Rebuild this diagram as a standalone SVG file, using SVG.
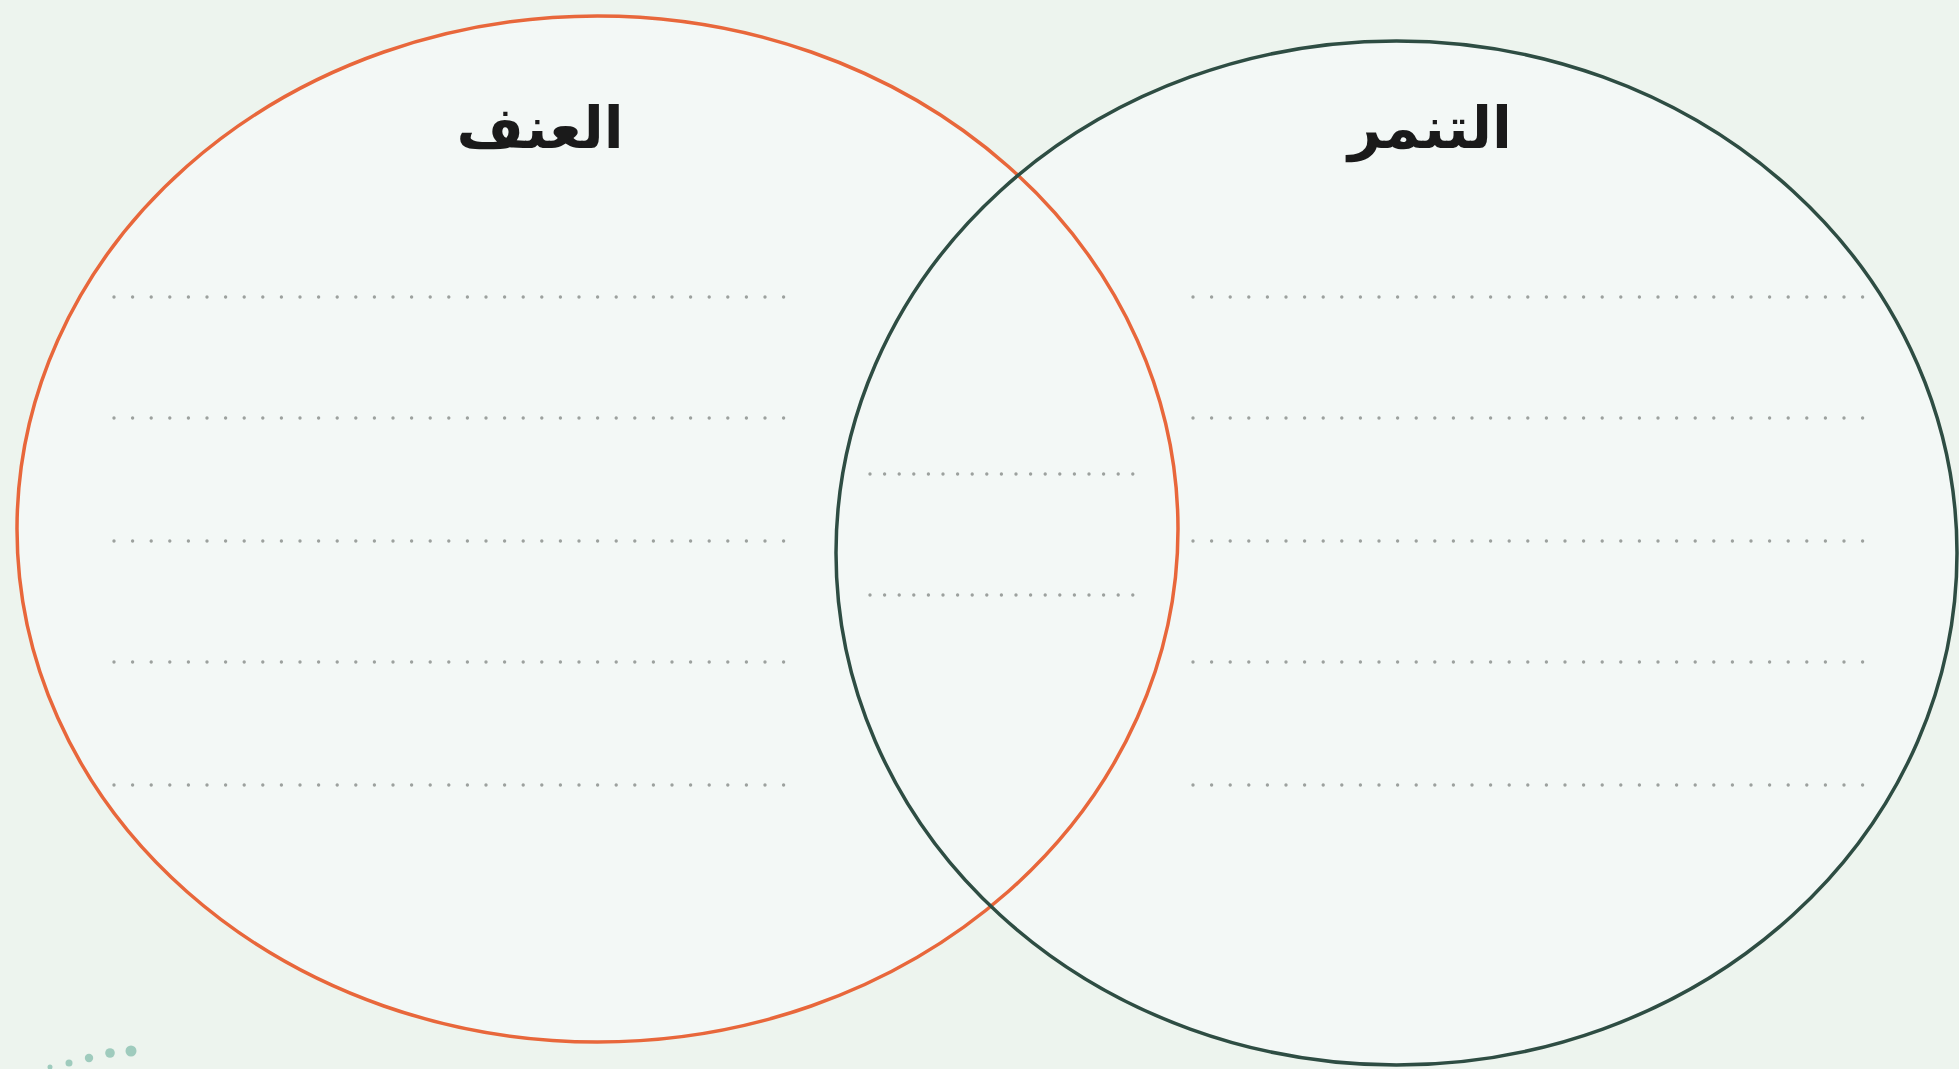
<svg xmlns="http://www.w3.org/2000/svg" width="1959" height="1069" viewBox="0 0 1959 1069">
  <style>
    .bg { fill: #edf4ee; }
    .fillset { fill: #f3f8f6; stroke: none; }
    .set { fill: none; stroke-width: 3.5; }
    .violence { stroke: #e8673b; }
    .bullying { stroke: #2e4d43; }
    .title { font-family: "DejaVu Sans", "Noto Sans", sans-serif; font-weight: bold; font-size: 58px; fill: #1a1a1a; text-anchor: middle; }
    .dots { stroke: #9ca19e; stroke-width: 3.4; stroke-linecap: round; stroke-dasharray: 0 18.6; fill: none; }
    .dots-mid { stroke: #9ca19e; stroke-width: 3.4; stroke-linecap: round; stroke-dasharray: 0 14.6; fill: none; }
    .deco { fill: #9fcbbd; }
  </style>
  <rect class="bg" x="0" y="0" width="1959" height="1069"/>
  <ellipse class="fillset" cx="597.5" cy="529" rx="580.5" ry="513"/>
  <ellipse class="fillset" cx="1396.5" cy="553" rx="560.5" ry="512"/>

  <g id="set-violence">
    <ellipse class="set violence" cx="597.5" cy="529" rx="580.5" ry="513"/>
    <text class="title" x="540" y="148" direction="rtl">العنف</text>
    <line class="dots" x1="114" y1="297" x2="787" y2="297"/>
    <line class="dots" x1="114" y1="418" x2="787" y2="418"/>
    <line class="dots" x1="114" y1="541" x2="787" y2="541"/>
    <line class="dots" x1="114" y1="662" x2="787" y2="662"/>
    <line class="dots" x1="114" y1="785" x2="787" y2="785"/>
  </g>

  <g id="set-bullying">
    <ellipse class="set bullying" cx="1396.5" cy="553" rx="560.5" ry="512"/>
    <text class="title" x="1430" y="148" direction="rtl">التنمر</text>
    <line class="dots" x1="1193" y1="297" x2="1866" y2="297"/>
    <line class="dots" x1="1193" y1="418" x2="1866" y2="418"/>
    <line class="dots" x1="1193" y1="541" x2="1866" y2="541"/>
    <line class="dots" x1="1193" y1="662" x2="1866" y2="662"/>
    <line class="dots" x1="1193" y1="785" x2="1866" y2="785"/>
  </g>

  <g id="intersection">
    <line class="dots-mid" x1="870" y1="474" x2="1137" y2="474"/>
    <line class="dots-mid" x1="870" y1="595" x2="1137" y2="595"/>
  </g>

  <g id="connectors"></g>

  <g id="decoration">
    <circle class="deco" cx="50" cy="1067" r="2.5"/>
    <circle class="deco" cx="69" cy="1063" r="3.5"/>
    <circle class="deco" cx="89" cy="1058" r="4.2"/>
    <circle class="deco" cx="110" cy="1053" r="4.8"/>
    <circle class="deco" cx="131" cy="1051" r="5.5"/>
  </g>
</svg>
